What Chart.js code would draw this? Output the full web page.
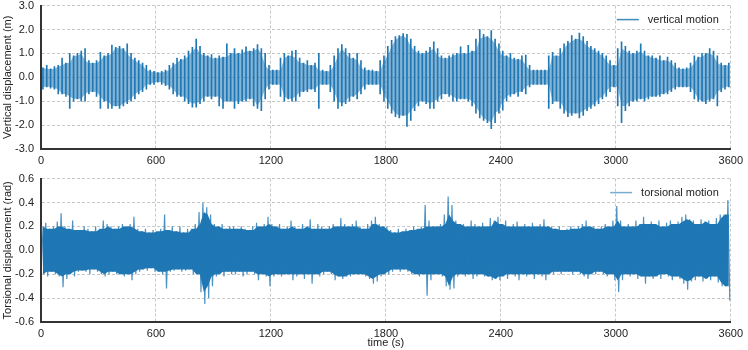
<!DOCTYPE html>
<html>
<head>
<meta charset="utf-8">
<title>Vertical and torsional motion</title>
<script src="https://cdn.jsdelivr.net/npm/chart.js@4.4.1/dist/chart.umd.min.js"></script>
<style>
  html, body { margin: 0; padding: 0; background: #fff; }
  #wrap { position: relative; width: 748px; height: 350px; overflow: hidden; }
  #wrap canvas { position: absolute; left: 0; }
  #topChart { top: -8px; }
  #botChart { top: 165px; }
</style>
</head>
<body>
<div id="wrap">
  <canvas id="topChart" width="748" height="174"></canvas>
  <canvas id="botChart" width="748" height="185"></canvas>
</div>
<script>
// ===== DATA =====
// envelope of each 20 s window (max / min)
var binSeconds = 20;
var timeTicks = [0, 600, 1200, 1800, 2400, 3000, 3600];
var vertTicks = [-3, -2, -1, 0, 1, 2, 3];
var torsTicks = [-0.6, -0.4, -0.2, 0, 0.2, 0.4, 0.6];

var vertMax = [
  0.4, 0.5, 0.35, 0.45, 0.5, 0.8, 0.6, 1.0, 0.9, 1.0,
  1.1, 1.2, 0.7, 0.6, 0.7, 1.05, 0.9, 1.0, 1.35, 1.25,
  1.3, 1.2, 1.4, 1.0, 0.8, 0.7, 0.6, 0.5, 0.3, 0.25,
  0.2, 0.25, 0.3, 0.5, 0.6, 0.8, 0.75, 0.9, 1.1, 1.25,
  1.6, 1.3, 1.0, 0.9, 0.95, 0.8, 0.9, 0.85, 1.4, 1.0,
  1.2, 1.0, 1.15, 1.27, 1.1, 1.2, 1.37, 1.2, 1.0, 0.5,
  0.3, 0.3, 0.8, 1.0, 0.9, 1.1, 1.13, 0.8, 0.6, 0.7,
  0.5, 0.6, 1.0, 0.3, 0.25, 0.5, 0.9, 1.2, 1.37, 1.2,
  1.0, 0.8, 1.0, 0.7, 0.4, 0.3, 0.3, 0.25, 0.7, 0.9,
  1.3, 1.55, 1.7, 1.75, 1.83, 1.8, 1.6, 1.3, 1.1, 1.0,
  1.1, 1.25, 1.48, 1.2, 0.9, 0.8, 0.9, 0.95, 1.0, 1.27,
  1.0, 1.34, 1.1, 1.6, 2.0, 1.8, 1.7, 1.95, 1.6, 1.4,
  1.1, 0.9, 1.0, 0.8, 0.75, 0.9, 0.93, 0.5, 0.3, 0.3,
  0.3, 0.3, 0.9, 1.05, 0.9, 1.2, 1.4, 1.5, 1.75, 1.6,
  1.85, 1.7, 1.5, 1.3, 1.2, 1.1, 1.0, 0.9, 0.7, 0.5,
  1.2, 1.48, 1.3, 1.1, 1.0, 1.1, 1.4, 1.1, 0.9, 0.9,
  0.8, 0.9, 0.7, 0.85, 0.7, 0.6, 0.4, 0.35, 0.4, 0.6,
  0.9, 0.85, 1.0, 1.0, 1.2, 1.1, 0.9, 0.6, 0.5, 0.6
];
var vertMin = [
  -0.5, -0.4, -0.45, -0.5, -0.7, -0.7, -0.8, -1.3, -1.0, -0.9,
  -1.0, -1.0, -0.7, -0.6, -0.8, -1.3, -1.0, -1.3, -1.3, -1.2,
  -1.3, -1.2, -1.1, -1.0, -0.9, -0.7, -0.6, -0.5, -0.3, -0.3,
  -0.2, -0.3, -0.35, -0.5, -0.7, -0.8, -0.8, -1.0, -1.1, -1.25,
  -1.25, -1.1, -1.0, -0.8, -0.9, -0.8, -1.2, -1.3, -1.0, -1.0,
  -1.3, -1.1, -1.0, -1.0, -0.9, -1.2, -1.3, -1.4, -0.9, -0.5,
  -0.3, -0.3, -0.8, -1.0, -0.9, -1.0, -1.0, -0.8, -0.6, -0.6,
  -0.5, -0.6, -1.3, -0.3, -0.3, -0.6, -1.0, -1.3, -1.2, -1.1,
  -1.0, -0.8, -0.9, -0.7, -0.5, -0.3, -0.3, -0.3, -0.7, -1.0,
  -1.3, -1.5, -1.65, -1.7, -1.6, -2.05, -1.8, -1.4, -1.2, -1.0,
  -1.1, -1.3, -1.3, -1.0, -0.9, -0.7, -0.8, -1.0, -1.0, -0.9,
  -0.9, -1.0, -1.2, -1.5, -1.7, -1.8, -1.9, -2.15, -1.9, -1.5,
  -1.38, -1.0, -0.8, -0.7, -0.8, -0.6, -0.7, -0.4, -0.3, -0.3,
  -0.3, -0.3, -1.3, -1.1, -1.0, -1.3, -1.5, -1.65, -1.6, -1.5,
  -1.7, -1.6, -1.4, -1.3, -1.2, -1.1, -0.9, -0.8, -0.6, -0.4,
  -1.2, -1.9, -1.4, -1.2, -1.0, -1.0, -0.9, -1.0, -0.9, -0.8,
  -0.8, -0.8, -0.7, -0.7, -0.6, -0.5, -0.4, -0.4, -0.4, -0.6,
  -0.9, -1.0, -1.0, -1.1, -1.0, -0.9, -1.2, -0.6, -0.5, -0.4
];

var torsMax = [
  0.2, 0.23, 0.18, 0.2, 0.24, 0.31, 0.2, 0.18, 0.25, 0.17,
  0.17, 0.2, 0.18, 0.16, 0.2, 0.18, 0.25, 0.22, 0.2, 0.18,
  0.2, 0.22, 0.2, 0.22, 0.28, 0.18, 0.16, 0.18, 0.15, 0.17,
  0.16, 0.18, 0.3, 0.17, 0.2, 0.16, 0.2, 0.15, 0.18, 0.18,
  0.22, 0.32, 0.4, 0.36, 0.3, 0.22, 0.2, 0.22, 0.18, 0.2,
  0.2, 0.18, 0.2, 0.18, 0.17, 0.2, 0.23, 0.2, 0.22, 0.28,
  0.22, 0.2, 0.22, 0.18, 0.2, 0.25, 0.2, 0.18, 0.22, 0.2,
  0.26, 0.18, 0.22, 0.2, 0.18, 0.2, 0.22, 0.2, 0.27, 0.22,
  0.2, 0.22, 0.25, 0.2, 0.18, 0.22, 0.25, 0.28, 0.22, 0.2,
  0.2, 0.17, 0.15, 0.18, 0.16, 0.18, 0.17, 0.2, 0.18, 0.2,
  0.38, 0.25, 0.2, 0.2, 0.22, 0.3, 0.45, 0.38, 0.25, 0.22,
  0.22, 0.2, 0.25, 0.22, 0.2, 0.23, 0.2, 0.27, 0.25, 0.28,
  0.22, 0.25, 0.2, 0.22, 0.24, 0.2, 0.22, 0.2, 0.23, 0.2,
  0.22, 0.26, 0.2, 0.2, 0.18, 0.2, 0.17, 0.18, 0.2, 0.18,
  0.2, 0.22, 0.25, 0.2, 0.2, 0.18, 0.2, 0.22, 0.2, 0.25,
  0.37, 0.25, 0.2, 0.22, 0.2, 0.25, 0.22, 0.28, 0.22, 0.24,
  0.22, 0.25, 0.2, 0.23, 0.25, 0.22, 0.24, 0.28, 0.3, 0.26,
  0.25, 0.22, 0.26, 0.24, 0.25, 0.22, 0.27, 0.3, 0.3, 0.42
];
var torsMin = [
  -0.2, -0.22, -0.18, -0.2, -0.22, -0.31, -0.24, -0.2, -0.22, -0.18,
  -0.17, -0.18, -0.2, -0.16, -0.18, -0.2, -0.22, -0.2, -0.18, -0.2,
  -0.2, -0.22, -0.2, -0.25, -0.2, -0.18, -0.16, -0.17, -0.15, -0.18,
  -0.18, -0.2, -0.32, -0.18, -0.17, -0.16, -0.18, -0.17, -0.16, -0.2,
  -0.2, -0.35, -0.45, -0.4, -0.3, -0.22, -0.2, -0.22, -0.18, -0.2,
  -0.2, -0.18, -0.22, -0.2, -0.18, -0.2, -0.25, -0.2, -0.22, -0.3,
  -0.22, -0.2, -0.22, -0.2, -0.2, -0.25, -0.22, -0.2, -0.24, -0.2,
  -0.28, -0.2, -0.22, -0.2, -0.18, -0.2, -0.25, -0.22, -0.24, -0.22,
  -0.22, -0.2, -0.2, -0.2, -0.22, -0.24, -0.28, -0.26, -0.22, -0.2,
  -0.2, -0.18, -0.16, -0.18, -0.16, -0.18, -0.2, -0.2, -0.22, -0.2,
  -0.38, -0.25, -0.2, -0.2, -0.22, -0.3, -0.33, -0.32, -0.22, -0.2,
  -0.22, -0.2, -0.24, -0.22, -0.2, -0.22, -0.22, -0.25, -0.24, -0.25,
  -0.22, -0.24, -0.2, -0.22, -0.25, -0.2, -0.22, -0.2, -0.24, -0.2,
  -0.22, -0.25, -0.2, -0.2, -0.18, -0.2, -0.18, -0.18, -0.2, -0.18,
  -0.2, -0.22, -0.24, -0.2, -0.2, -0.18, -0.2, -0.22, -0.2, -0.25,
  -0.35, -0.25, -0.2, -0.22, -0.2, -0.24, -0.22, -0.28, -0.22, -0.24,
  -0.22, -0.24, -0.2, -0.22, -0.25, -0.22, -0.24, -0.28, -0.33, -0.26,
  -0.25, -0.22, -0.26, -0.24, -0.25, -0.22, -0.27, -0.3, -0.3, -0.42
];

// ===== STYLE =====
var BLUE = '#1f77b4';
var FONT = "'Liberation Sans', Arial, sans-serif";
Chart.defaults.font.family = FONT;
Chart.defaults.font.size = 11;
Chart.defaults.color = '#222';
Chart.defaults.animation = false;

// solid core of each window: the smallest swing among it and its neighbours
function corePoints(values, shift, pick) {
  return values.map(function(v, i) {
    var a = values[Math.max(i - 1, 0)], b = values[Math.min(i + 1, values.length - 1)];
    return { x: i * binSeconds + shift, y: pick(v, a, b) };
  });
}

function spikePoints(hi, lo) {
  return hi.map(function(v, i) { return { x: i * binSeconds + binSeconds / 2, y: [lo[i], v] }; });
}

function zigzagPoints(hi, lo) {
  var pts = [];
  for (var i = 0; i < hi.length; i++) {
    pts.push({ x: i * binSeconds + binSeconds / 4, y: hi[i] });
    pts.push({ x: i * binSeconds + binSeconds * 3 / 4, y: lo[i] });
  }
  return pts;
}

function xAxis(showTitle, height) {
  return {
    type: 'linear',
    min: timeTicks[0],
    max: timeTicks[timeTicks.length - 1],
    offset: false,
    afterBuildTicks: function(scale) { scale.ticks = timeTicks.map(function(v) { return { value: v }; }); },
    afterFit: function(scale) { scale.height = height; },
    grid: { color: '#c8c8c8', lineWidth: 1, drawTicks: false, offset: false },
    border: { display: true, color: '#333', width: 2, dash: [3, 2] },
    ticks: { padding: 5, maxRotation: 0, autoSkip: false, callback: function(v) { return String(v); } },
    title: { display: showTitle, text: 'time (s)', padding: { top: 0, bottom: 0 } }
  };
}

function yAxis(ticks, title) {
  return {
    type: 'linear',
    min: ticks[0],
    max: ticks[ticks.length - 1],
    afterBuildTicks: function(scale) { scale.ticks = ticks.map(function(v) { return { value: v }; }); },
    afterFit: function(scale) { scale.width = 41; },
    grid: { color: '#c8c8c8', lineWidth: 1, drawTicks: false },
    border: { display: true, color: '#333', width: 2, dash: [3, 2] },
    ticks: { padding: 7, callback: function(v) { return v.toFixed(1); } },
    title: { display: true, text: title, padding: { top: 1.5, bottom: 0 } }
  };
}

// legend drawn in the top right corner of the plot, no box
var cornerLegend = {
  id: 'cornerLegend',
  afterDraw: function(chart, args, opts) {
    var ctx = chart.ctx, area = chart.chartArea;
    ctx.save();
    ctx.font = '11px ' + FONT;
    var w = ctx.measureText(opts.text).width;
    var tx = area.right - 12 - w, ty = area.top + 14;
    ctx.strokeStyle = opts.color;
    ctx.lineWidth = 1.5;
    ctx.beginPath();
    ctx.moveTo(tx - 31, ty);
    ctx.lineTo(tx - 9, ty);
    ctx.stroke();
    ctx.fillStyle = '#222';
    ctx.textBaseline = 'middle';
    ctx.fillText(opts.text, tx, ty);
    ctx.restore();
  }
};

// ===== TOP: VERTICAL MOTION =====
new Chart(document.getElementById('topChart'), {
  type: 'line',
  plugins: [cornerLegend],
  data: {
    datasets: [
      {
        type: 'bar',
        label: 'vertical motion',
        data: spikePoints(vertMax, vertMin),
        backgroundColor: BLUE,
        barThickness: 1,
        borderWidth: 0
      },
      {
        label: 'upper',
        data: corePoints(vertMax, binSeconds / 2, Math.min),
        fill: '+1',
        backgroundColor: 'rgba(31,119,180,0.55)',
        borderWidth: 0,
        pointRadius: 0
      },
      {
        label: 'lower',
        data: corePoints(vertMin, binSeconds / 2, Math.max),
        fill: false,
        borderWidth: 0,
        pointRadius: 0
      }
    ]
  },
  options: {
    responsive: false,
    events: [],
    layout: { padding: { left: 0, right: 14, top: 0, bottom: 0 } },
    scales: { x: xAxis(false, 17), y: yAxis(vertTicks, 'Vertical displacement (m)') },
    plugins: {
      legend: { display: false },
      tooltip: { enabled: false },
      cornerLegend: { text: 'vertical motion', color: 'rgba(31,119,180,0.85)' }
    }
  }
});

// ===== BOTTOM: TORSIONAL MOTION =====
new Chart(document.getElementById('botChart'), {
  type: 'line',
  plugins: [cornerLegend],
  data: {
    datasets: [
      {
        label: 'torsional motion',
        data: zigzagPoints(torsMax, torsMin),
        fill: false,
        borderColor: 'rgba(31,119,180,0.8)',
        borderWidth: 1.2,
        pointRadius: 0
      },
      {
        label: 'core upper',
        data: corePoints(torsMax, binSeconds / 2, Math.min),
        fill: '+1',
        backgroundColor: BLUE,
        borderWidth: 0,
        pointRadius: 0
      },
      {
        label: 'core lower',
        data: corePoints(torsMin, binSeconds / 2, Math.max),
        fill: false,
        borderWidth: 0,
        pointRadius: 0
      }
    ]
  },
  options: {
    responsive: false,
    events: [],
    layout: { padding: { left: 0, right: 14, top: 0, bottom: 0 } },
    scales: { x: xAxis(true, 28), y: yAxis(torsTicks, 'Torsional displacement (rad)') },
    plugins: {
      legend: { display: false },
      tooltip: { enabled: false },
      cornerLegend: { text: 'torsional motion', color: 'rgba(31,119,180,0.6)' }
    }
  }
});
</script>
</body>
</html>
